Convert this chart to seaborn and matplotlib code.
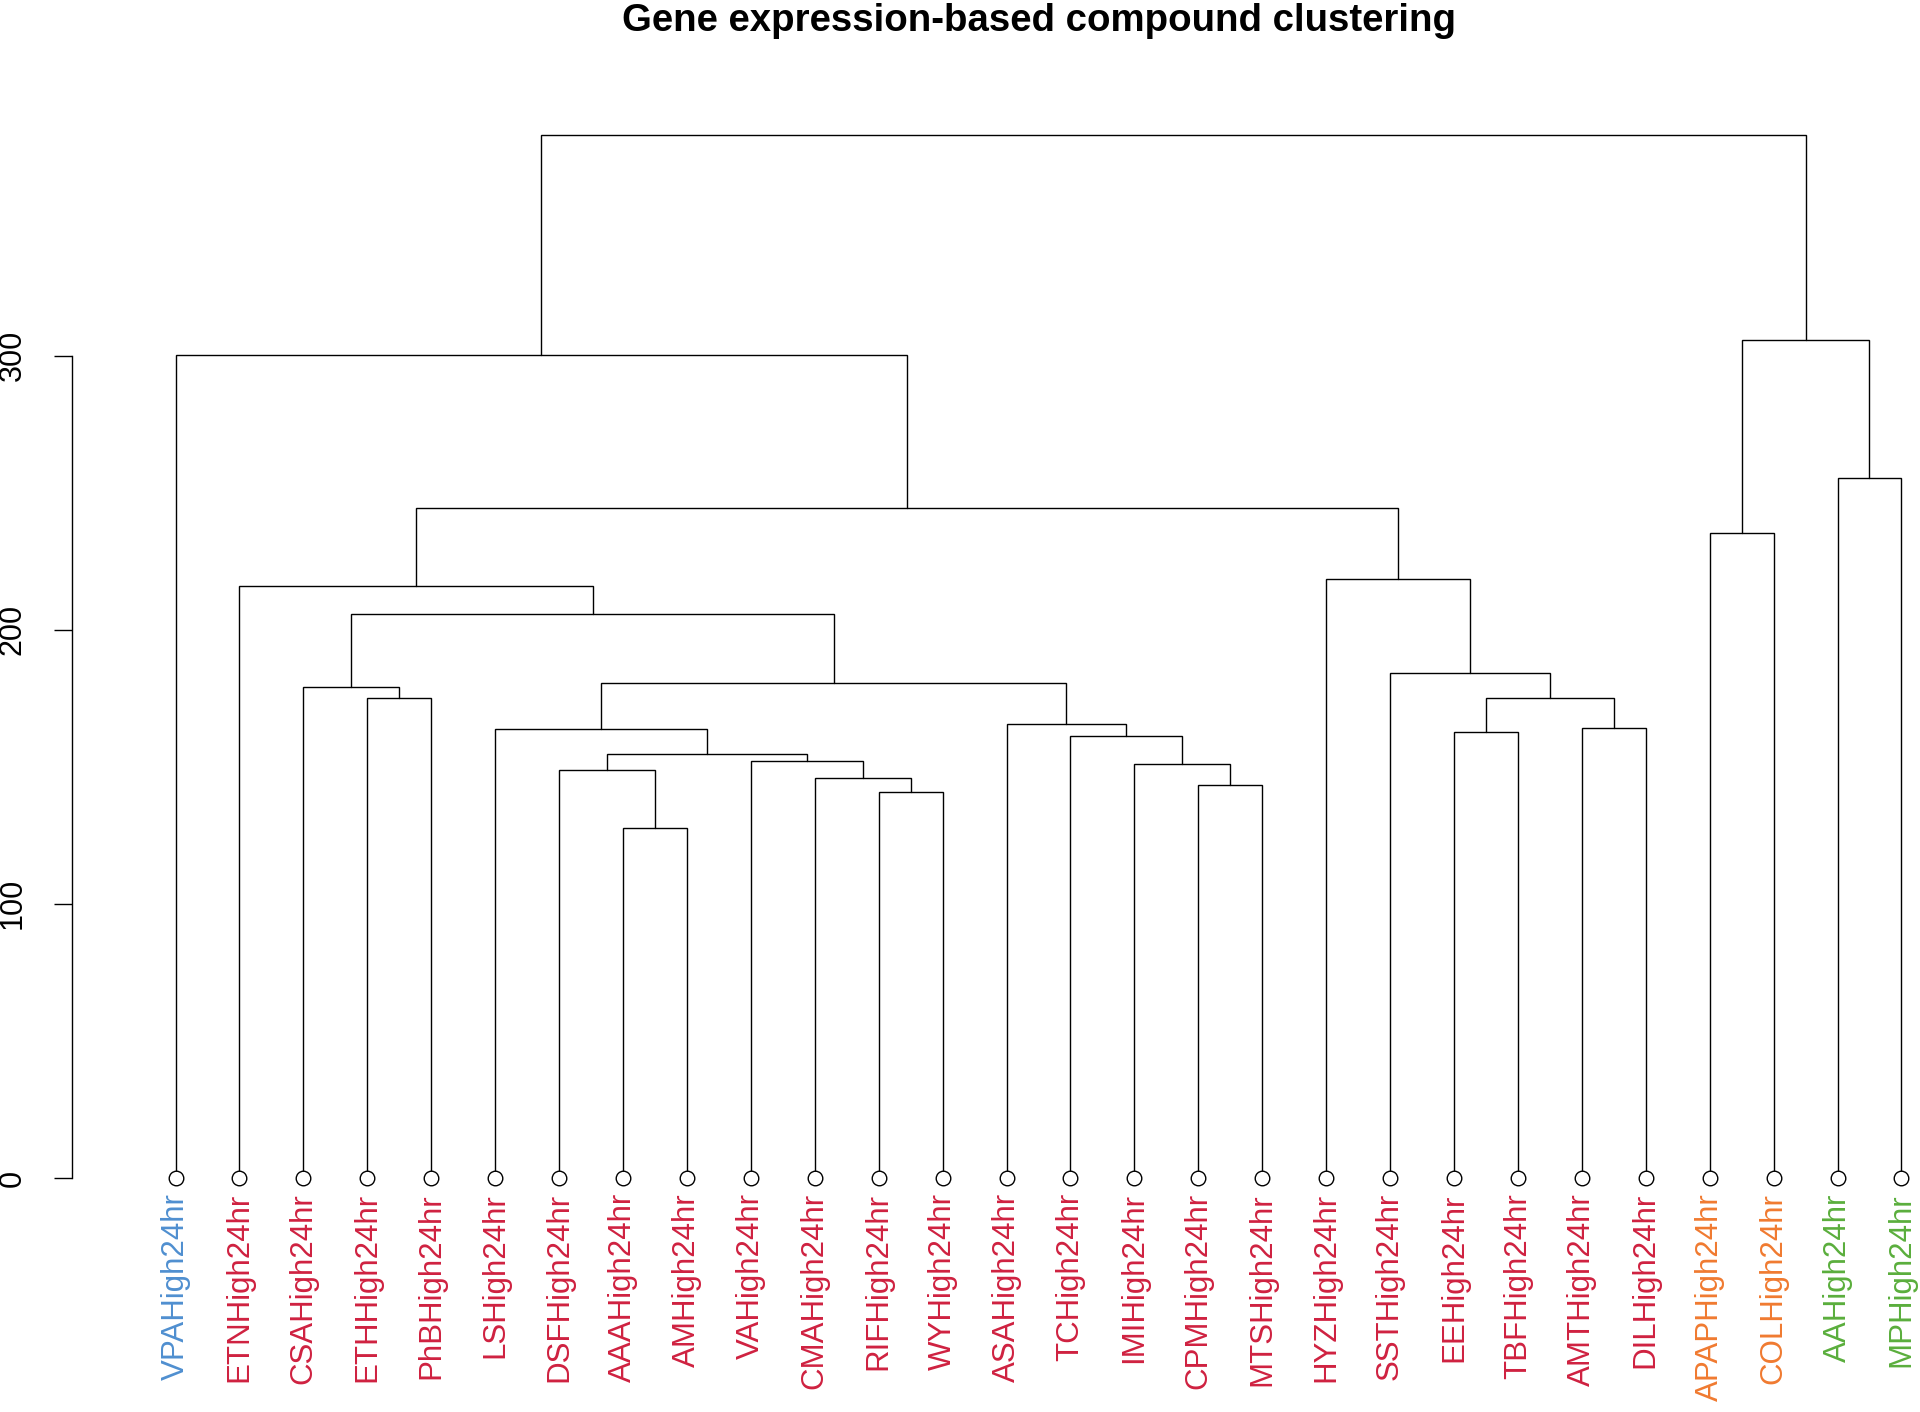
import matplotlib.pyplot as plt
import numpy as np
import seaborn as sns

# leaf order (left to right) and their group colours
compounds = ["VPA", "ETN", "CSA", "ETH", "PhB", "LS", "DSF", "AAA", "AM", "VA",
             "CMA", "RIF", "WY", "ASA", "TC", "IMI", "CPM", "MTS", "HYZ", "SST",
             "EE", "TBF", "AMT", "DIL", "APAP", "COL", "AA", "MP"]
leaf_labels = [c + "High24hr" for c in compounds]
groups = ["blue"] + ["red"] * 23 + ["orange"] * 2 + ["green"] * 2
group_colors = {"blue": "#4f8fd0", "red": "#cf2140", "orange": "#f07a30", "green": "#5aae3c"}

# merges: (left child, right child, height); a child is a leaf name or the index of an earlier merge
merges = [
    ("ETH", "PhB", 175.0),   # 0
    ("CSA", 0, 179.2),       # 1
    ("AAA", "AM", 127.7),    # 2
    ("DSF", 2, 148.7),       # 3
    ("RIF", "WY", 140.7),    # 4
    ("CMA", 4, 146.0),       # 5
    ("VA", 5, 152.1),        # 6
    (3, 6, 154.7),           # 7
    ("LS", 7, 163.7),        # 8
    ("CPM", "MTS", 143.5),   # 9
    ("IMI", 9, 150.9),       # 10
    ("TC", 10, 161.1),       # 11
    ("ASA", 11, 165.5),      # 12
    (8, 12, 180.7),          # 13
    (1, 13, 205.6),          # 14
    ("ETN", 14, 215.9),      # 15
    ("EE", "TBF", 162.6),    # 16
    ("AMT", "DIL", 164.3),   # 17
    (16, 17, 175.0),         # 18
    ("SST", 18, 184.2),      # 19
    ("HYZ", 19, 218.4),      # 20
    (15, 20, 244.5),         # 21
    ("VPA", 21, 300.2),      # 22
    ("APAP", "COL", 235.4),  # 23
    ("AA", "MP", 255.3),     # 24
    (23, 24, 305.6),         # 25
    (22, 25, 380.6),         # 26
]
y_ticks = [0, 100, 200, 300]

sns.set_style("white")
plt.rcParams["font.family"] = ["Liberation Sans", "DejaVu Sans"]
plt.rcParams["text.color"] = "black"
plt.rcParams["ytick.color"] = "black"
plt.rcParams["ytick.labelcolor"] = "black"

fig = plt.figure(figsize=(19.2, 14.12), dpi=100)
# R-style plot region (4% padding); it runs past the right edge like the cropped original
ax = fig.add_axes([72 / 1920, 0.1362, 1933 / 1920, 0.798])

n = len(compounds)
leaf_x = {c: i + 1 for i, c in enumerate(compounds)}

# node positions: x is midpoint of children, y is merge height
node_pos = []


def child_pos(ch):
    if isinstance(ch, str):
        return leaf_x[ch], 0.0
    return node_pos[ch]


for left, right, h in merges:
    xl, yl = child_pos(left)
    xr, yr = child_pos(right)
    ax.plot([xl, xl, xr, xr], [yl, h, h, yr], color="black", lw=1.0,
            solid_joinstyle="miter", zorder=1)
    node_pos.append(((xl + xr) / 2, h))

# leaf circles
sns.scatterplot(x=np.arange(1, n + 1), y=np.zeros(n), marker="o", s=110,
                facecolor="white", edgecolor="black", linewidth=1.0,
                zorder=3, clip_on=False, ax=ax, legend=False)

# coloured leaf labels
for i, (lab, g) in enumerate(zip(leaf_labels, groups)):
    ax.annotate(lab, xy=(i + 1, 0), xytext=(0, -11), textcoords="offset points",
                rotation=90, ha="center", va="top", fontsize=22.5,
                color=group_colors[g], annotation_clip=False)

ax.set_xlim(0.5 - 0.04 * n, n + 0.5 + 0.04 * n)
top = merges[-1][2]
ax.set_ylim(-0.04 * top, top * 1.04)

for s in ["top", "right", "bottom"]:
    ax.spines[s].set_visible(False)
ax.spines["left"].set_bounds(0, 300)
ax.spines["left"].set_linewidth(1.0)
ax.spines["left"].set_color("black")
ax.set_xticks([])
ax.set_yticks(y_ticks)
ax.set_yticklabels([str(t) for t in y_ticks], rotation=90, va="center",
                   fontsize=22, color="black")
ax.tick_params(axis="y", direction="out", length=13, width=1.0, pad=19, left=True,
               colors="black")

fig.text(1038.5 / 1920, 1 - 21 / 1412, "Gene expression-based compound clustering",
         ha="center", va="center", fontsize=27.6, fontweight="bold", color="black")

fig.savefig("out.png", dpi=100)
